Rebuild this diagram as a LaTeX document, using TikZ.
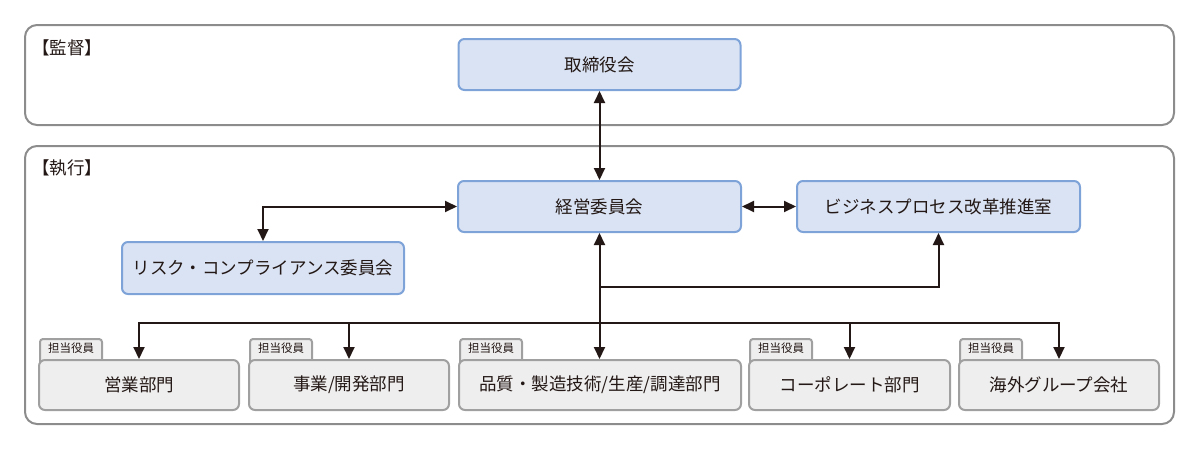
\documentclass[tikz,border=0pt]{standalone}
\usepackage{fontspec}
\setmainfont{Noto Sans CJK JP}
\usetikzlibrary{arrows.meta}
\definecolor{txt}{HTML}{231815}
\definecolor{ln}{HTML}{231815}
\definecolor{outer}{HTML}{8C8C8C}
\definecolor{bfill}{HTML}{D9E3F4}
\definecolor{bdraw}{HTML}{7EA3D8}
\definecolor{gfill}{HTML}{EEEEEE}
\definecolor{gdraw}{HTML}{A0A0A0}
\tikzset{
  sectbox/.style={draw=outer, line width=2pt, rounded corners=12pt},
  sect/.style={anchor=west, inner sep=0pt, font=\fontsize{17.5}{19}\selectfont, text=txt},
  bluebox/.style={draw=bdraw, fill=bfill, line width=2pt, rounded corners=6pt, minimum height=51pt, font=\fontsize{17.5}{19}\selectfont, text=txt, inner sep=0pt},
  deptbox/.style={draw=gdraw, fill=gfill, line width=2pt, rounded corners=6pt, minimum height=50pt, font=\fontsize{17.5}{19}\selectfont, text=txt, inner sep=0pt},
  tabbox/.style={draw=gdraw, fill=gfill, line width=2pt, rounded corners=3pt, minimum width=62pt, minimum height=30pt, text depth=0pt, font=\fontsize{11.5}{13}\selectfont, text=txt, inner sep=0pt},
  tri/.tip={Triangle[width=11pt,length=12pt]},
  conn/.style={draw=ln, line width=2pt, arrows={-}},
}
\begin{document}
\begin{tikzpicture}[x=1pt,y=-1pt]
\useasboundingbox (0,0) rectangle (1200,450);
% section boxes
\draw[sectbox] (25,25) rectangle (1174,125);
\draw[sectbox] (25,146) rectangle (1174,424);
\node[sect] (lsup) at (32,48) {【監督】};
\node[sect] (lexe) at (32,168) {【執行】};
% blue boxes
\node[bluebox, minimum width=282pt] (tori) at (599.5,64.5) {取締役会};
\node[bluebox, minimum width=283pt] (keiei) at (599.5,206.5) {経営委員会};
\node[bluebox, minimum width=283pt] (bpr) at (938.5,206.5) {ビジネスプロセス改革推進室};
\node[bluebox, minimum width=282pt, minimum height=52pt] (risk) at (263,268) {リスク・コンプライアンス委員会};
% tabs
\foreach \n/\x in {t1/39,t2/249,t3/459,t4/749,t5/959}{
  \node[tabbox, anchor=north west] (\n) at (\x,338) {\raisebox{1.5pt}[0pt][0pt]{担当役員}};
}
% dept boxes
\node[deptbox, minimum width=200pt] (d1) at (139,385) {営業部門};
\node[deptbox, minimum width=200pt] (d2) at (349,385) {事業/開発部門};
\node[deptbox, minimum width=282pt] (d3) at (600,385) {品質・製造技術/生産/調達部門};
\node[deptbox, minimum width=201pt] (d4) at (849.5,385) {コーポレート部門};
\node[deptbox, minimum width=200pt] (d5) at (1059,385) {海外グループ会社};
% connectors
\coordinate (br) at (599.5,287);
\coordinate (bus) at (599.5,323);
\draw[conn, {tri}-{tri}] (tori.south) -- (keiei.north);
\draw[conn, {tri}-{tri}] (keiei.east) -- (bpr.west);
\draw[conn, {tri}-{tri}] (keiei.west) -| (risk.north);
\draw[conn, {tri}-{tri}] (keiei.south) -- (keiei.south |- d3.north);
\draw[conn, -{tri}] (br) -| (bpr.south);
\draw[conn, -{tri}] (bus) -| (d1.north);
\draw[conn, -{tri}] (bus) -| (d2.north);
\draw[conn, -{tri}] (bus) -| (d4.north);
\draw[conn, -{tri}] (bus) -| (d5.north);
\end{tikzpicture}
\end{document}
